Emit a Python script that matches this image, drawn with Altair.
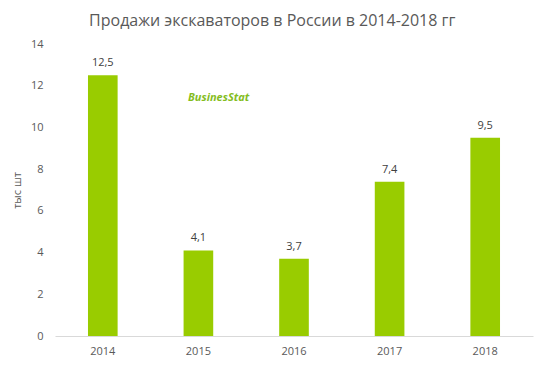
import altair as alt
import pandas as pd

years = ["2014", "2015", "2016", "2017", "2018"]
sales = [12.5, 4.1, 3.7, 7.4, 9.5]

df = pd.DataFrame({"year": years, "sales": sales})

FONT = "Open Sans"
GREY = "#595959"

base = alt.Chart(df).encode(
    x=alt.X("year:N", sort=years, title=None,
            scale=alt.Scale(paddingInner=0.69, paddingOuter=0.345),
            axis=alt.Axis(labelAngle=0, labelColor=GREY, labelFontSize=11, labelFont=FONT,
                          domainColor="#d9d9d9", ticks=False, labelPadding=9)),
    y=alt.Y("sales:Q", title="тыс шт",
            scale=alt.Scale(domain=[0, 14]),
            axis=alt.Axis(values=[0, 2, 4, 6, 8, 10, 12, 14], grid=False, domain=False, ticks=False,
                          labelColor=GREY, labelFontSize=11, labelFont=FONT, labelPadding=12,
                          titleColor=GREY, titleFontSize=11, titleFont=FONT, titleFontWeight="normal",
                          titlePadding=8)),
)

bars = base.mark_bar(color="#99cc00")
labels = base.transform_calculate(
    lab="replace(format(datum.sales, '.1f'), '.', ',')"
).mark_text(baseline="bottom", dy=-7, fontSize=11, font=FONT, color="#404040").encode(text="lab:N")

logo = alt.Chart(pd.DataFrame({"t": ["BusinesStat"]})).mark_text(
    font="Open Sans", fontStyle="italic", fontWeight="bold", fontSize=11, align="left",
    baseline="middle", color="#84bd1e").encode(
    x=alt.value(133), y=alt.value(54), text="t:N")

chart = alt.layer(bars, labels, logo).properties(
    width=478, height=292,
    title=alt.TitleParams("Продажи экскаваторов в России в 2014-2018 гг", font=FONT, fontSize=16,
                          fontWeight="normal", color=GREY, anchor="middle", frame="bounds", offset=9),
    autosize=alt.AutoSizeParams(type="none"),
    padding={"left": 47, "top": 36, "right": 9, "bottom": 20},
).configure_view(stroke=None)

chart.save("out.html", embed_options={"renderer": "svg", "actions": False})
